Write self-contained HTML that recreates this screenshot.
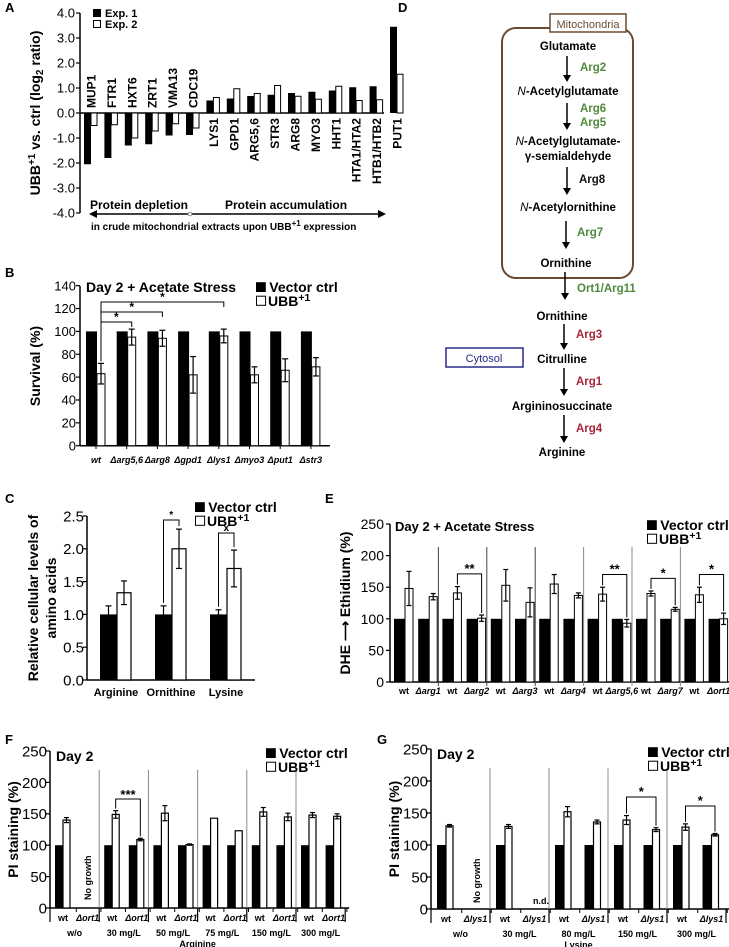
<!DOCTYPE html>
<html><head><meta charset="utf-8"><style>
html,body{margin:0;padding:0;background:#fff;}
svg{display:block;font-family:"Liberation Sans",Arial,sans-serif;}
</style></head><body>
<svg id="fig" width="729" height="947" viewBox="0 0 729 947" xmlns="http://www.w3.org/2000/svg"></svg>
<script>
// ---------- DATA ----------
const aGenes=["MUP1","FTR1","HXT6","ZRT1","VMA13","CDC19","LYS1","GPD1","ARG5,6","STR3","ARG8","MYO3","HHT1","HTA1/HTA2","HTB1/HTB2","PUT1"];
const aExp1=[-2.05,-1.8,-1.3,-1.25,-0.9,-0.88,0.5,0.58,0.68,0.73,0.8,0.85,0.9,1.03,1.07,3.45];
const aExp2=[-0.5,-0.47,-1.0,-0.72,-0.43,-0.6,0.62,0.97,0.78,1.1,0.67,0.55,1.07,0.5,0.53,1.55];
const aTicks=["4.0","3.0","2.0","1.0","0.0","-1.0","-2.0","-3.0","-4.0"];

const bStrains=["wt","Δarg5,6","Δarg8","Δgpd1","Δlys1","Δmyo3","Δput1","Δstr3"];
const bCtrl=[100,100,100,100,100,100,100,100];
const bUbb=[63,95,94,62,96,62,66,69];
const bErr=[9,7,7,16,6,7,10,8];
const bTicks=[0,20,40,60,80,100,120,140];

const cAmino=["Arginine","Ornithine","Lysine"];
const cCtrl=[1.0,1.0,1.0];
const cCtrlErr=[0.13,0.13,0.07];
const cUbb=[1.33,2.0,1.7];
const cUbbErr=[0.18,0.3,0.28];
const cTicks=["0.0","0.5","1.0","1.5","2.0","2.5"];

const eStrains=["wt","Δarg1","wt","Δarg2","wt","Δarg3","wt","Δarg4","wt","Δarg5,6","wt","Δarg7","wt","Δort1"];
const eCtrl=[100,100,100,100,100,100,100,100,100,100,100,100,100,100];
const eUbb=[148,135,141,101,153,126,155,137,139,93,140,115,138,100];
const eErr=[27,5,10,5,25,23,15,4,11,6,4,3,12,9];
const eSig=[["**",2,3],["**",8,9],["*",10,11],["*",12,13]];
const eTicks=[0,50,100,150,200,250];

const fStrains=["wt","Δort1","wt","Δort1","wt","Δort1","wt","Δort1","wt","Δort1","wt","Δort1"];
const fGroups=["w/o","30 mg/L","50 mg/L","75 mg/L","150 mg/L","300 mg/L"];
const fCtrl=[100,null,100,100,100,100,100,100,100,100,100,100];
const fUbb=[140,null,149,109,151,101,143,123,153,145,148,146];
const fErr=[4,null,6,2,12,1,0,0,7,6,4,4];

const gStrains=["wt","Δlys1","wt","Δlys1","wt","Δlys1","wt","Δlys1","wt","Δlys1"];
const gGroups=["w/o","30 mg/L","80 mg/L","150 mg/L","300 mg/L"];
const gCtrl=[100,null,100,null,100,100,100,100,100,100];
const gUbb=[130,null,129,null,152,136,139,124,128,116];
const gErr=[2,null,3,null,8,3,7,3,5,2];
const piTicks=[0,50,100,150,200,250];

// ---------- HELPERS ----------
const NS="http://www.w3.org/2000/svg";
const svg=document.getElementById('fig');
function mk(tag,attrs,parent){const e=document.createElementNS(NS,tag);for(const k in attrs)e.setAttribute(k,attrs[k]);(parent||svg).appendChild(e);return e;}
function line(x1,y1,x2,y2,w,c){return mk('line',{x1:x1,y1:y1,x2:x2,y2:y2,stroke:c||'#000','stroke-width':w||1});}
function text(x,y,s,size,opt){opt=opt||{};const t=mk('text',{x:x,y:y,'font-size':size,'font-weight':opt.bold===false?'normal':'bold',fill:opt.fill||'#000','text-anchor':opt.anchor||'start'});if(opt.italic)t.setAttribute('font-style','italic');if(opt.rot)t.setAttribute('transform','rotate(-90 '+x+' '+y+')');t.textContent=s;return t;}
function ubbText(x,y,size,anchor){const t=mk('text',{x:x,y:y,'font-size':size,'font-weight':'bold','text-anchor':anchor||'start'});t.appendChild(document.createTextNode('UBB'));const s=mk('tspan',{dy:-size*0.35,'font-size':size*0.75},t);s.textContent='+1';return t;}
function legend(x,y,size,l1,name){
  let r=mk('rect',{x:x,y:y-size*0.7,width:size*0.7,height:size*0.7,fill:'#000'});
  
  let t=text(x+size*0.95,y,l1,size);
  r=mk('rect',{x:x+0.5,y:y+size*1.0-size*0.7,width:size*0.65,height:size*0.65,fill:'#fff',stroke:'#000','stroke-width':1});
  
}
function errbar(cx,y1,y2,cap){line(cx,y1,cx,y2,1.2);line(cx-cap,y1,cx+cap,y1,1.2);line(cx-cap,y2,cx+cap,y2,1.2);}
function yAxis(x,ticks,yf,top,bot,size,lblx,name){
  const ax=line(x,top,x,bot,1.5);
  ticks.forEach(v=>{const y=yf(+v);line(x-4,y,x,y,1.2);const t=text(lblx,y+size*0.36,String(v),size,{bold:false,anchor:'end'});});
}

// ---------- PANEL LETTERS ----------
[["A",5,12],["B",5,277],["C",5,503],["D",398,12],["E",325,503],["F",5,744],["G",377,744]].forEach(p=>{const t=text(p[1],p[2],p[0],13);});

// ---------- PANEL A ----------
const yA=v=>113-v*25;
const xA=i=>84+i*20.4;
yAxis(80,aTicks,yA,13,213,13,75,'panel-a');
{const z=line(80,113,384,113,1.5);}
aGenes.forEach((g,i)=>{
  const x=xA(i);
  const v1=aExp1[i],v2=aExp2[i];
  let r=mk('rect',{x:x,y:Math.min(yA(v1),yA(0)),width:7,height:Math.abs(yA(v1)-yA(0)),fill:'#000'});
  
  r=mk('rect',{x:x+7,y:Math.min(yA(v2),yA(0)),width:6,height:Math.abs(yA(v2)-yA(0)),fill:'#fff',stroke:'#000','stroke-width':1});
  
  const neg=v1<0;
  const t=text(x+11.5,neg?108:118,g,12,{rot:true,anchor:neg?'start':'end'});
  
});
{let t=mk('text',{x:40,y:113,'font-size':14,'font-weight':'bold','text-anchor':'middle',transform:'rotate(-90 40 113)'});

t.appendChild(document.createTextNode('UBB'));let s=mk('tspan',{dy:-5,'font-size':10},t);s.textContent='+1';
s=mk('tspan',{dy:5},t);s.textContent=' vs. ctrl (log';s=mk('tspan',{dy:3,'font-size':10},t);s.textContent='2';s=mk('tspan',{dy:-3},t);s.textContent=' ratio)';}
{let r=mk('rect',{x:93,y:9,width:8,height:8,fill:'#000'});
let t=text(105,17,'Exp. 1',11);
r=mk('rect',{x:93.5,y:20.5,width:7,height:7,fill:'#fff',stroke:'#000'});
t=text(105,28,'Exp. 2',11);}
{let t=text(90,209,'Protein depletion',12);
t=text(225,209,'Protein accumulation',12);
const a=line(95,214,380,214,1.5);
mk('polygon',{points:'89,214 97,210 97,218',fill:'#000'});mk('polygon',{points:'386,214 378,210 378,218',fill:'#000'});
mk('circle',{cx:190,cy:214,r:1.8,fill:'#fff',stroke:'#888'});
t=mk('text',{x:91,y:230,'font-size':10,'font-weight':'bold'});
t.appendChild(document.createTextNode('in crude mitochondrial extracts upon UBB'));let s=mk('tspan',{dy:-4,'font-size':8},t);s.textContent='+1';s=mk('tspan',{dy:4},t);s.textContent=' expression';}

// ---------- PANEL B ----------
const yB=v=>445.7-v*1.143;
const xB=i=>86+i*30.7;
yAxis(80,bTicks,yB,286,446,13,76,'panel-b');
line(80,445.7,330,445.7,1.5);
bStrains.forEach((s,i)=>{
  const x=xB(i);
  let r=mk('rect',{x:x,y:yB(bCtrl[i]),width:11,height:yB(0)-yB(bCtrl[i]),fill:'#000'});
  
  r=mk('rect',{x:x+11,y:yB(bUbb[i]),width:8,height:yB(0)-yB(bUbb[i]),fill:'#fff',stroke:'#000','stroke-width':1});
  
  errbar(x+15,yB(bUbb[i]+bErr[i]),yB(bUbb[i]-bErr[i]),3);
  line(x+10,445.7,x+10,449,1);
  const t=text(x+10,463,s,9,{italic:true,anchor:'middle'});
});
[[1,322],[2,312],[4,302]].forEach(b=>{
  const x1=xB(0)+15,x2=xB(b[0])+15,y=b[1];
  const p=mk('polyline',{points:x1+','+(yB(bUbb[0]+bErr[0])-2)+' '+x1+','+y+' '+x2+','+y+' '+x2+','+(y+5),fill:'none',stroke:'#000','stroke-width':1});
  
  text((x1+x2)/2,y-1,'*',12,{anchor:'middle'});
});
{let t=text(86,292,'Day 2 + Acetate Stress',14);
legend(256,292,14,'Vector ctrl','panel-b');ubbText(268,306,14);
t=text(40,366,'Survival (%)',14,{rot:true,anchor:'middle'});}

// ---------- PANEL C ----------
const yC=v=>680-v*65.6;
const xC=i=>100+i*55;
yAxis(87,cTicks,yC,516,680,15,84,'panel-c');
line(87,680,255,680,1.5);
cAmino.forEach((a,i)=>{
  const x=xC(i);
  let r=mk('rect',{x:x,y:yC(cCtrl[i]),width:17,height:yC(0)-yC(cCtrl[i]),fill:'#000'});
  
  r=mk('rect',{x:x+17,y:yC(cUbb[i]),width:14,height:yC(0)-yC(cUbb[i]),fill:'#fff',stroke:'#000','stroke-width':1.2});
  
  errbar(x+8.5,yC(cCtrl[i]+cCtrlErr[i]),yC(cCtrl[i]-cCtrlErr[i]),3);
  errbar(x+24,yC(cUbb[i]+cUbbErr[i]),yC(cUbb[i]-cUbbErr[i]),3);
  const t=text(x+16,696,a,11,{anchor:'middle'});
});
[[1,'*',520],[2,'x',533]].forEach(b=>{
  const i=b[0],x1=xC(i)+8.5,x2=xC(i)+24,y=b[2];
  const p=mk('polyline',{points:x1+','+(yC(cCtrl[i]+cCtrlErr[i])-3)+' '+x1+','+y+' '+x2+','+y+' '+x2+','+(yC(cUbb[i]+cUbbErr[i])-3),fill:'none',stroke:'#000','stroke-width':1});
  
  text((x1+x2)/2,y-2,b[1],10,{anchor:'middle'});
});
{legend(195,512,14,'Vector ctrl','panel-c');ubbText(207,526,14);
let t=text(38,598,'Relative cellular levels of',14,{rot:true,anchor:'middle'});
t=text(56,598,'amino acids',14,{rot:true,anchor:'middle'});}

// ---------- PANEL E ----------
const yE=v=>682-v*0.632;
const xE=i=>394+i*24.2;
yAxis(390,eTicks,yE,524,682,14,384,'panel-e');
line(390,682,730,682,1.5);
for(let g=1;g<7;g++){const sx=390+g*48.4;const l=line(sx,547,sx,686,1,g>=4?'#888':'#444');}
eStrains.forEach((s,i)=>{
  const x=xE(i);
  let r=mk('rect',{x:x,y:yE(eCtrl[i]),width:11,height:yE(0)-yE(eCtrl[i]),fill:'#000'});
  
  r=mk('rect',{x:x+11,y:yE(eUbb[i]),width:8,height:yE(0)-yE(eUbb[i]),fill:'#fff',stroke:'#000','stroke-width':1});
  
  errbar(x+15,yE(eUbb[i]+eErr[i]),yE(eUbb[i]-eErr[i]),2.5);
  const t=text(x+10,694,s,9,{italic:s!=='wt',anchor:'middle'});
});
eSig.forEach(b=>{
  const x1=xE(b[1])+15,x2=xE(b[2])+15,y=yE(Math.max(eUbb[b[1]]+eErr[b[1]],eUbb[b[2]]+eErr[b[2]])+20);
  const p=mk('polyline',{points:x1+','+(yE(eUbb[b[1]]+eErr[b[1]])-2)+' '+x1+','+y+' '+x2+','+y+' '+x2+','+(yE(eUbb[b[2]]+eErr[b[2]])-2),fill:'none',stroke:'#000','stroke-width':1});
  
  text((x1+x2)/2,y-1,b[0],13,{anchor:'middle'});
});
{let t=text(395,531,'Day 2 + Acetate Stress',13);
legend(647,530,14,'Vector ctrl','panel-e');ubbText(659,544,14);
t=mk('text',{x:350,y:603,'font-size':14,'font-weight':'bold','text-anchor':'middle',transform:'rotate(-90 350 603)'});t.textContent='DHE ⟶ Ethidium (%)';
}

// ---------- PANEL F & G (PI staining) ----------
function piPanel(o){
  const yf=v=>o.y0-v*o.k;
  const xf=i=>o.x0+i*o.pitch;
  yAxis(o.ax,piTicks,yf,o.y0-250*o.k,o.y0,15,o.ax-3,o.name);
  line(o.ax,o.y0,o.ax+o.groups.length*o.pitch*2+4,o.y0,1.5);
  for(let g=0;g<=o.groups.length;g++){const sx=o.ax+g*o.pitch*2;
    if(g>0&&g<o.groups.length){const l=line(sx,o.y0-220*o.k,sx,o.y0,1,'#888');}
    line(sx,o.y0,sx,o.y0+14,1.2);}
  o.strains.forEach((s,i)=>{
    const x=xf(i);
    if(o.ctrl[i]!==null){
      let r=mk('rect',{x:x,y:yf(o.ctrl[i]),width:o.bw,height:yf(0)-yf(o.ctrl[i]),fill:'#000'});
      
      r=mk('rect',{x:x+o.bw,y:yf(o.ubb[i]),width:o.ww,height:yf(0)-yf(o.ubb[i]),fill:'#fff',stroke:'#000','stroke-width':1.2});
      
      if(o.err[i]>0)errbar(x+o.bw+o.ww/2,yf(o.ubb[i]+o.err[i]),yf(o.ubb[i]-o.err[i]),2.5);
    }
    line(x+o.bw+o.pitch/2+1,o.y0,x+o.bw+o.pitch/2+1,o.y0+4,1);
    const t=text(x+o.bw,o.y0+13,s,9,{italic:s!=='wt',anchor:'middle'});
  });
  o.groups.forEach((g,j)=>{const t=text(o.ax+(j+0.5)*o.pitch*2,o.y0+28,g,9,{anchor:'middle'});});
  let t=text(o.ax+o.groups.length*o.pitch,o.y0+39,o.title,9,{anchor:'middle'});
  t=text(o.ax+6,o.y0-250*o.k+10,'Day 2',14);
  t=text(o.ax-32,o.y0-125*o.k,'PI staining (%)',14,{rot:true,anchor:'middle'});
  return {yf:yf,xf:xf};
}
const F=piPanel({name:'panel-f',ax:50,y0:908,k:0.628,x0:55,pitch:24.6,bw:8,ww:7,strains:fStrains,groups:fGroups,ctrl:fCtrl,ubb:fUbb,err:fErr,title:'Arginine'});
{let t=text(91,900,'No growth',9,{rot:true});
const x1=F.xf(2)+11.5,x2=F.xf(3)+11.5,y=799;
const p=mk('polyline',{points:x1+','+(F.yf(fUbb[2]+fErr[2])-2)+' '+x1+','+y+' '+x2+','+y+' '+x2+','+(F.yf(fUbb[3]+fErr[3])-2),fill:'none',stroke:'#000','stroke-width':1});

text((x1+x2)/2,799,'***',13,{anchor:'middle'});
legend(266,758,14,'Vector ctrl','panel-f');ubbText(278,772,14);}

const G=piPanel({name:'panel-g',ax:431,y0:909,k:0.64,x0:437,pitch:29.5,bw:9,ww:7,strains:gStrains,groups:gGroups,ctrl:gCtrl,ubb:gUbb,err:gErr,title:'Lysine'});
{let t=text(480,903,'No growth',9,{rot:true});
t=text(541,904,'n.d.',9,{anchor:'middle'});
[[6,7,797],[8,9,806]].forEach(b=>{
  const x1=G.xf(b[0])+12.5,x2=G.xf(b[1])+12.5,y=b[2];
  const p=mk('polyline',{points:x1+','+(G.yf(gUbb[b[0]]+gErr[b[0]])-2)+' '+x1+','+y+' '+x2+','+y+' '+x2+','+(G.yf(gUbb[b[1]]+gErr[b[1]])-2),fill:'none',stroke:'#000','stroke-width':1});
  
  text((x1+x2)/2,y-1,'*',13,{anchor:'middle'});
});
legend(648,757,14,'Vector ctrl','panel-g');ubbText(660,771,14);}

// ---------- PANEL D (pathway) ----------
{
const G1='#4f8a3b',R1='#a8243a';
let r=mk('rect',{x:502,y:28,width:131,height:250,rx:14,fill:'none',stroke:'#6b4a2e','stroke-width':2});

r=mk('rect',{x:550,y:14,width:76,height:18,fill:'#fff',stroke:'#6b4a2e','stroke-width':1.5});

let t=text(588,28,'Mitochondria',11,{bold:false,anchor:'middle',fill:'#6b4a2e'});
r=mk('rect',{x:446,y:348,width:77,height:19,fill:'#fff',stroke:'#2a2a88','stroke-width':1.5});

t=text(484,362,'Cytosol',11,{bold:false,anchor:'middle',fill:'#2a2a88'});
const mets=[["Glutamate",568,50],["N-Acetylglutamate",568,95],["N-Acetylglutamate-",568,145],["γ-semialdehyde",568,160],["N-Acetylornithine",568,211],["Ornithine",566,267],["Ornithine",562,320],["Citrulline",562,363],["Argininosuccinate",562,410],["Arginine",562,456]];
mets.forEach(m=>{
  const t=mk('text',{x:m[1],y:m[2],'font-size':11.5,'font-weight':'bold','text-anchor':'middle'});
  if(m[0].startsWith('N-')){const s=mk('tspan',{'font-style':'italic','font-weight':'normal'},t);s.textContent='N';t.appendChild(document.createTextNode(m[0].slice(1)));}
  else t.textContent=m[0];
  
});
const arrows=[[567,56,82],[567,103,130],[567,167,195],[566,221,249],[565,272,300],[564,324,350],[564,368,396],[564,415,443]];
arrows.forEach(a=>{const l=line(a[0],a[1],a[0],a[2]-5,1.5);
  mk('polygon',{points:(a[0]-4)+','+(a[2]-7)+' '+(a[0]+4)+','+(a[2]-7)+' '+a[0]+','+a[2],fill:'#000'});});
const enz=[["Arg2",580,71,G1],["Arg6",580,112,G1],["Arg5",580,126,G1],["Arg8",579,183,'#111'],["Arg7",577,236,G1],["Ort1/Arg11",577,292,G1],["Arg3",576,338,R1],["Arg1",576,385,R1],["Arg4",576,432,R1]];
enz.forEach(e=>{const t=text(e[1],e[2],e[0],11.5,{fill:e[3]});});
}
</script>
</body></html>
